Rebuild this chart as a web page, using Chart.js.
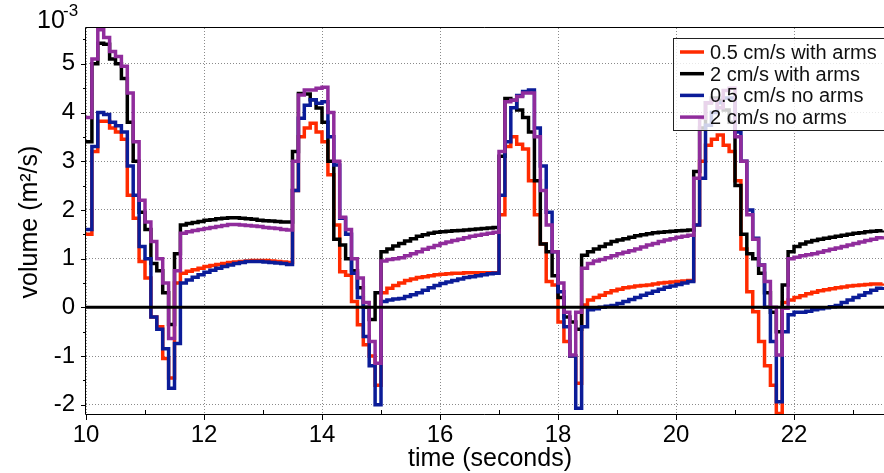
<!DOCTYPE html>
<html>
<head>
<meta charset="utf-8">
<script src="https://cdn.jsdelivr.net/npm/chart.js@4.4.1/dist/chart.umd.min.js"></script>
<style>
html,body{margin:0;padding:0;background:#fff;}
#wrap{width:884px;height:473px;position:relative;}
</style>
</head>
<body>
<div id="wrap"><canvas id="c" width="884" height="473"></canvas></div>
<script>
// ---- data (values in units of 10^-3 m^2/s) ----
const time = [
  10.0,10.1,10.2,10.3,10.4,10.5,10.6,10.7,10.8,10.9,
  11.0,11.1,11.2,11.3,11.4,11.5,11.6,11.7,11.8,11.9,
  12.0,12.1,12.2,12.3,12.4,12.5,12.6,12.7,12.8,12.9,
  13.0,13.1,13.2,13.3,13.4,13.5,13.6,13.7,13.8,13.9,
  14.0,14.1,14.2,14.3,14.4,14.5,14.6,14.7,14.8,14.9,
  15.0,15.1,15.2,15.3,15.4,15.5,15.6,15.7,15.8,15.9,
  16.0,16.1,16.2,16.3,16.4,16.5,16.6,16.7,16.8,16.9,
  17.0,17.1,17.2,17.3,17.4,17.5,17.6,17.7,17.8,17.9,
  18.0,18.1,18.2,18.3,18.4,18.5,18.6,18.7,18.8,18.9,
  19.0,19.1,19.2,19.3,19.4,19.5,19.6,19.7,19.8,19.9,
  20.0,20.1,20.2,20.3,20.4,20.5,20.6,20.7,20.8,20.9,
  21.0,21.1,21.2,21.3,21.4,21.5,21.6,21.7,21.8,21.9,
  22.0,22.1,22.2,22.3,22.4,22.5,22.6,22.7,22.8,22.9,
  23.0,23.1,23.2,23.3,23.4,23.5
];

const slowWithArms = [
  1.5,3.2,3.82,3.82,3.68,3.6,3.45,2.3,1.83,0.94,
  0.6,-0.2,-0.4,-1.05,-1.45,0.5,0.7,0.74,0.77,0.8,
  0.84,0.86,0.88,0.9,0.92,0.93,0.94,0.95,0.96,0.96,
  0.96,0.95,0.94,0.93,0.92,2.4,3.5,3.68,3.78,3.6,
  3.4,2.72,1.69,0.73,0.66,0.12,-0.36,-0.77,-1.0,-1.6,
  0.3,0.39,0.45,0.5,0.55,0.58,0.61,0.63,0.65,0.67,
  0.68,0.69,0.7,0.7,0.71,0.71,0.71,0.71,0.71,0.71,
  1.9,3.3,3.5,3.35,3.25,2.6,1.9,1.3,0.53,0.46,
  -0.3,-0.7,-1.0,-1.56,0.05,0.15,0.2,0.25,0.3,0.34,
  0.37,0.4,0.42,0.44,0.45,0.46,0.48,0.5,0.51,0.52,
  0.53,0.54,0.55,1.69,3.0,3.33,3.45,3.54,3.33,3.2,
  2.6,1.2,0.32,-0.09,-0.7,-1.2,-1.6,-2.18,0.1,0.15,
  0.2,0.24,0.28,0.31,0.34,0.36,0.38,0.4,0.42,0.44,
  0.45,0.46,0.47,0.48,0.48,0.49
];

const fastWithArms = [
  3.4,5.0,5.42,5.4,5.1,5.0,4.7,3.8,3.0,1.95,
  1.6,0.9,0.75,0.3,-0.35,1.1,1.69,1.72,1.74,1.76,
  1.79,1.8,1.82,1.83,1.84,1.84,1.83,1.82,1.81,1.79,
  1.78,1.77,1.76,1.75,1.75,3.2,4.39,4.38,4.26,4.09,
  3.8,3.0,1.4,1.28,1.0,0.75,0.4,0.0,-0.25,0.3,
  1.14,1.2,1.26,1.31,1.36,1.41,1.46,1.49,1.52,1.54,
  1.55,1.56,1.57,1.58,1.59,1.6,1.61,1.62,1.63,1.64,
  3.1,4.29,4.25,4.05,3.9,3.6,2.6,1.3,1.14,0.65,
  0.2,-0.2,-0.3,-0.45,1.07,1.14,1.2,1.25,1.3,1.35,
  1.38,1.41,1.44,1.47,1.49,1.51,1.53,1.54,1.55,1.56,
  1.57,1.58,1.59,2.79,3.68,4.2,4.3,4.25,4.05,3.8,
  2.5,1.5,1.1,1.0,0.7,0.3,-0.1,-0.5,0.46,1.14,
  1.25,1.3,1.34,1.37,1.4,1.42,1.44,1.46,1.48,1.5,
  1.52,1.53,1.55,1.56,1.57,1.58
];

const slowNoArms = [
  1.6,3.3,4.0,3.96,3.8,3.73,3.6,2.9,2.3,1.25,
  1.0,-0.2,-0.45,-0.85,-1.66,-0.74,0.5,0.56,0.62,0.67,
  0.72,0.76,0.8,0.84,0.87,0.9,0.92,0.94,0.94,0.94,
  0.93,0.92,0.91,0.9,0.88,2.4,3.88,4.15,4.26,4.19,
  4.22,3.5,2.92,1.83,1.5,0.7,0.2,-0.6,-1.2,-2.0,
  0.12,0.15,0.17,0.18,0.22,0.26,0.3,0.35,0.4,0.45,
  0.49,0.52,0.55,0.58,0.61,0.63,0.65,0.67,0.69,0.7,
  2.3,3.4,4.1,4.35,4.43,4.46,3.68,2.9,1.95,1.14,
  0.32,-0.4,-1.0,-2.07,-0.4,-0.05,-0.03,0.0,0.02,0.04,
  0.08,0.12,0.16,0.2,0.25,0.29,0.33,0.37,0.41,0.44,
  0.47,0.5,0.53,1.69,2.65,3.74,4.0,4.2,4.3,4.3,
  3.6,3.0,2.0,1.42,0.87,0.0,-0.7,-1.94,-0.5,-0.15,
  -0.1,-0.1,-0.08,-0.05,-0.03,-0.01,0.01,0.04,0.1,0.15,
  0.2,0.25,0.3,0.35,0.39,0.42
];

const fastNoArms = [
  3.9,5.1,5.7,5.54,5.25,5.15,4.95,4.4,3.4,2.2,
  1.75,1.35,1.0,0.5,-0.64,0.75,1.52,1.55,1.58,1.6,
  1.62,1.64,1.66,1.68,1.7,1.7,1.69,1.68,1.67,1.66,
  1.64,1.63,1.62,1.6,1.59,3.0,4.36,4.46,4.46,4.5,
  4.52,4.0,3.0,1.85,1.6,1.0,0.6,0.1,-0.7,-1.15,
  0.95,0.98,1.0,1.02,1.06,1.1,1.14,1.19,1.23,1.27,
  1.31,1.34,1.37,1.4,1.43,1.46,1.48,1.5,1.52,1.54,
  3.2,4.22,4.25,4.33,4.4,4.4,3.5,2.4,1.69,1.14,
  0.5,-0.1,-0.98,-0.1,0.8,0.9,0.95,0.98,1.02,1.06,
  1.1,1.13,1.16,1.2,1.24,1.28,1.31,1.35,1.38,1.41,
  1.44,1.46,1.48,2.65,3.88,4.2,4.25,4.1,4.45,4.5,
  3.5,3.0,1.9,1.4,0.87,0.53,0.0,-0.98,-0.02,1.0,
  1.03,1.06,1.08,1.1,1.13,1.16,1.19,1.22,1.25,1.28,
  1.31,1.34,1.37,1.4,1.43,1.46
];

const seriesLabels = ['0.5 cm/s with arms', '2 cm/s with arms', '0.5 cm/s no arms', '2 cm/s no arms'];
const seriesColors = ['#ff2a00', '#000000', '#0b1c98', '#902c9c'];
const xTickLabels = [10, 12, 14, 16, 18, 20, 22];
const yTickLabels = [-2, -1, 0, 1, 2, 3, 4, 5];

const FONT = "'Liberation Sans', Arial, Helvetica, sans-serif";

function pts(vals) { return time.map((t, i) => ({ x: t, y: vals[i] })); }
const allSeries = [slowWithArms, fastWithArms, slowNoArms, fastNoArms];

const datasets = allSeries.map((vals, i) => ({
  label: seriesLabels[i],
  data: pts(vals),
  borderColor: seriesColors[i],
  backgroundColor: seriesColors[i],
  borderWidth: 3.5,
  stepped: true,
  pointRadius: 0,
  fill: false,
  borderJoinStyle: 'miter',
  borderCapStyle: 'butt',
  order: 3 - i
}));

const decor = {
  id: 'decor',
  afterDatasetsDraw(chart) {
    const { ctx, chartArea: a, scales: { x, y } } = chart;
    ctx.save();
    // zero line
    const y0 = y.getPixelForValue(0);
    ctx.strokeStyle = '#000';
    ctx.lineWidth = 3;
    ctx.beginPath(); ctx.moveTo(a.left, y0); ctx.lineTo(a.right, y0); ctx.stroke();
    // axis lines
    ctx.lineWidth = 1;
    ctx.beginPath();
    ctx.moveTo(a.left - 0.5, a.top - 0.5); ctx.lineTo(a.right, a.top - 0.5);
    ctx.moveTo(a.left - 0.5, a.top - 0.5); ctx.lineTo(a.left - 0.5, a.bottom + 0.5);
    ctx.moveTo(a.left - 0.5, a.bottom + 0.5); ctx.lineTo(a.right, a.bottom + 0.5);
    ctx.stroke();
    // x ticks: major outward, minor inward
    ctx.beginPath();
    for (let v = 10; v <= 23; v++) {
      const px = Math.round(x.getPixelForValue(v)) + 0.5;
      if (v % 2 === 0) { ctx.moveTo(px, a.bottom); ctx.lineTo(px, a.bottom + 6); }
      else { ctx.moveTo(px, a.bottom); ctx.lineTo(px, a.bottom - 4); }
    }
    // y ticks every 0.5
    for (let k = -4; k <= 11; k++) {
      const v = k / 2;
      const py = Math.round(y.getPixelForValue(v)) + 0.5;
      const len = (k % 2 === 0) ? 5 : 3;
      ctx.moveTo(a.left - len, py); ctx.lineTo(a.left, py);
    }
    ctx.stroke();
    ctx.restore();
  },
  afterDraw(chart) {
    const { ctx, chartArea: a } = chart;
    ctx.save();
    ctx.fillStyle = '#000';
    // exponent label
    ctx.textBaseline = 'alphabetic';
    ctx.textAlign = 'left';
    ctx.font = '25px ' + FONT;
    ctx.fillText('10', 37, 28);
    ctx.font = '17px ' + FONT;
    ctx.fillText('-3', 63, 16);
    // x title
    ctx.font = '25px ' + FONT;
    ctx.textAlign = 'center';
    ctx.fillText('time (seconds)', 490, 466);
    // y title
    ctx.save();
    ctx.translate(37, 222);
    ctx.rotate(-Math.PI / 2);
    ctx.fillText('volume (m\u00B2/s)', 0, 0);
    ctx.restore();
    // legend box
    const lx = a.right - 211, ly = a.top + 10, lw = 230, lh = 92;
    ctx.fillStyle = 'rgba(255,255,255,0.8)';
    ctx.fillRect(lx, ly, lw, lh);
    ctx.strokeStyle = '#222';
    ctx.lineWidth = 1;
    ctx.strokeRect(lx + 0.5, ly + 0.5, lw, lh);
    ctx.font = '20px ' + FONT;
    ctx.textAlign = 'left';
    ctx.textBaseline = 'alphabetic';
    for (let i = 0; i < seriesLabels.length; i++) {
      const cy = ly + 14 + i * 21.7;
      ctx.strokeStyle = seriesColors[i];
      ctx.lineWidth = 3.5;
      ctx.beginPath(); ctx.moveTo(lx + 7, cy); ctx.lineTo(lx + 31, cy); ctx.stroke();
      ctx.fillStyle = '#111';
      ctx.fillText(seriesLabels[i], lx + 37, cy + 7);
    }
    ctx.restore();
  }
};

new Chart(document.getElementById('c'), {
  type: 'line',
  data: { datasets },
  options: {
    responsive: false,
    animation: false,
    devicePixelRatio: 1,
    layout: { padding: { top: 28, left: 0, right: 0, bottom: 0 } },
    plugins: { legend: { display: false }, tooltip: { enabled: false } },
    scales: {
      x: {
        type: 'linear',
        min: 10,
        max: 23.525,
        afterFit: s => { s.height = 59; },
        ticks: {
          stepSize: 1,
          includeBounds: false,
          autoSkip: false,
          maxRotation: 0,
          padding: 7,
          color: '#000',
          font: { family: FONT, size: 24 },
          callback: v => xTickLabels.includes(v) ? String(v) : ''
        },
        grid: {
          drawTicks: false,
          lineWidth: 1,
          color: c => (c.tick && xTickLabels.includes(c.tick.value)) ? '#8a8a8a' : 'rgba(0,0,0,0)'
        },
        border: { display: false, dash: [1, 2] }
      },
      y: {
        type: 'linear',
        min: -2.19,
        max: 5.735,
        afterFit: s => { s.width = 86; },
        ticks: {
          stepSize: 1,
          includeBounds: false,
          padding: 11,
          color: '#000',
          font: { family: FONT, size: 24 },
          callback: v => yTickLabels.includes(v) ? String(v) : ''
        },
        grid: {
          drawTicks: false,
          lineWidth: 1,
          color: c => (c.tick && yTickLabels.includes(c.tick.value)) ? '#8a8a8a' : 'rgba(0,0,0,0)'
        },
        border: { display: false, dash: [1, 2] }
      }
    }
  },
  plugins: [decor]
});
</script>
</body>
</html>
